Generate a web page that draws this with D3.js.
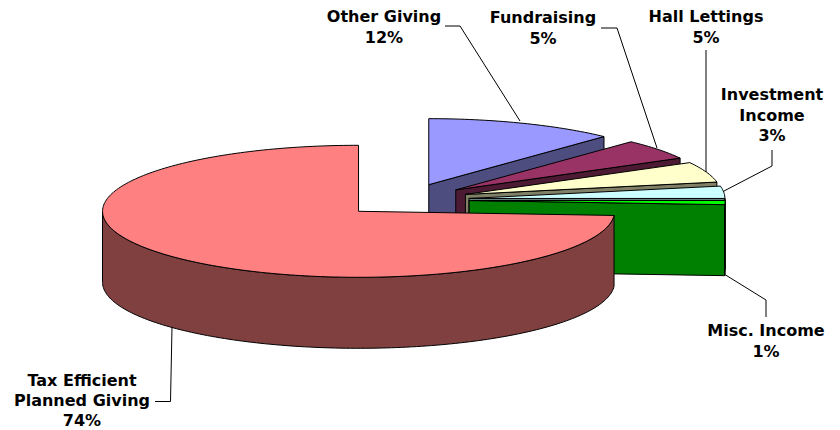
<!DOCTYPE html>
<html>
<head>
<meta charset="utf-8">
<script src="https://d3js.org/d3.v7.min.js"></script>
<style>
  html, body { margin: 0; padding: 0; background: #fff; }
  text { font-family: "DejaVu Sans", Verdana, sans-serif; font-weight: bold; font-size: 16px; fill: #000; }
</style>
</head>
<body>
<div id="chart"></div>
<script>
// DATA
const categories = ['Other Giving', 'Fundraising', 'Hall Lettings', 'Investment Income', 'Misc. Income', 'Tax Efficient Planned Giving'];
const shares = [12, 5, 5, 3, 1, 74];
const topColors = ['#9999ff', '#993366', '#ffffcc', '#ccffff', '#00ff00', '#ff8080'];
const wallColors = ['#4d4d80', '#4d1a33', '#808066', '#668080', '#008000', '#804040'];
const labelLines = [
  ['Other Giving', '12%'],
  ['Fundraising', '5%'],
  ['Hall Lettings', '5%'],
  ['Investment', 'Income', '3%'],
  ['Misc. Income', '1%'],
  ['Tax Efficient', 'Planned Giving', '74%']
];

// VIZ DIMENSIONS + MOUNTING
const width = 840;
const height = 430;
const centerX = 405.2;
const centerY = 200;
const radiusX = 256;
const radiusY = 66;
const depth = 71;
const explode = 0.25; // every slice pulled out by a quarter of the radius

const svg = d3.select('#chart').append('svg')
  .attr('width', width)
  .attr('height', height)
  .style('display', 'block');

// SCALES (unit circle -> squashed ellipse)
const xScale = d3.scaleLinear().domain([-1, 1]).range([centerX - radiusX, centerX + radiusX]);
const yScale = d3.scaleLinear().domain([-1, 1]).range([centerY + radiusY, centerY - radiusY]);

const slices = d3.pie().sort(null).startAngle(0).endAngle(2 * Math.PI)(shares);
const lineGen = d3.line();

// angle is clockwise from 12 o'clock, z is how far down the side wall we are
function project(s, angle, z) {
  const mid = (s.startAngle + s.endAngle) / 2;
  const ux = explode * Math.sin(mid) + Math.sin(angle);
  const uy = explode * Math.cos(mid) + Math.cos(angle);
  return [xScale(ux), yScale(uy) + z];
}
function hub(s, z) {
  const mid = (s.startAngle + s.endAngle) / 2;
  return [xScale(explode * Math.sin(mid)), yScale(explode * Math.cos(mid)) + z];
}
function arcPoints(s, a0, a1, z) {
  const n = Math.max(2, Math.ceil((a1 - a0) / 0.02));
  return d3.range(n + 1).map(i => project(s, a0 + (a1 - a0) * i / n, z));
}

// back to front, the way they are stacked in the data
const g = svg.append('g').attr('id', 'pie');
slices.forEach((s, i) => {
  const piece = g.append('g').attr('class', 'slice');

  // radial wall, only visible on the right hand slices
  if (s.endAngle < Math.PI) {
    piece.append('path')
      .attr('d', lineGen([hub(s, 0), project(s, s.endAngle, 0), project(s, s.endAngle, depth), hub(s, depth)]) + 'Z')
      .attr('fill', wallColors[i]);
  }

  // curved outer wall, front half only
  const a0 = Math.max(s.startAngle, Math.PI / 2);
  const a1 = Math.min(s.endAngle, 3 * Math.PI / 2);
  if (a1 > a0) {
    piece.append('path')
      .attr('d', lineGen(arcPoints(s, a0, a1, 0).concat(arcPoints(s, a0, a1, depth).reverse())) + 'Z')
      .attr('fill', wallColors[i]);
  }

  piece.append('path')
    .attr('d', lineGen([hub(s, 0)].concat(arcPoints(s, s.startAngle, s.endAngle, 0))) + 'Z')
    .attr('fill', topColors[i]);

  piece.selectAll('path')
    .attr('stroke', '#000')
    .attr('stroke-width', 1)
    .attr('stroke-linejoin', 'round');
});

// LABELS + LEADER LINES
const labelPos = [
  { x: 384, y: 22, gap: 20.7, leader: [[445, 26], [460, 26], [520, 121]] },
  { x: 543, y: 23, gap: 20.7, leader: [[601, 28], [617, 28], [657, 148]] },
  { x: 706, y: 22, gap: 20.7, leader: [[706, 50], [706, 172]] },
  { x: 772, y: 100, gap: 20.7, leader: [[772, 150], [772, 166], [724, 191]] },
  { x: 766, y: 336, gap: 20.7, leader: [[724, 274], [766, 300], [766, 317]] },
  { x: 82, y: 386, gap: 20, leader: [[155, 401.5], [170.5, 401.5], [172, 327]] } // tighter, sits on the bottom edge
];

const labels = svg.selectAll('g.label')
  .data(categories)
  .enter()
  .append('g')
  .attr('class', 'label');

labels.append('path')
  .attr('d', (d, i) => lineGen(labelPos[i].leader))
  .attr('fill', 'none')
  .attr('stroke', '#000')
  .attr('stroke-width', 1);

labels.append('text')
  .attr('text-anchor', 'middle')
  .selectAll('tspan')
  .data((d, i) => labelLines[i].map(t => ({ t, i })))
  .enter()
  .append('tspan')
  .attr('x', d => labelPos[d.i].x)
  .attr('y', (d, k) => labelPos[d.i].y + k * labelPos[d.i].gap)
  .text(d => d.t);
</script>
</body>
</html>
